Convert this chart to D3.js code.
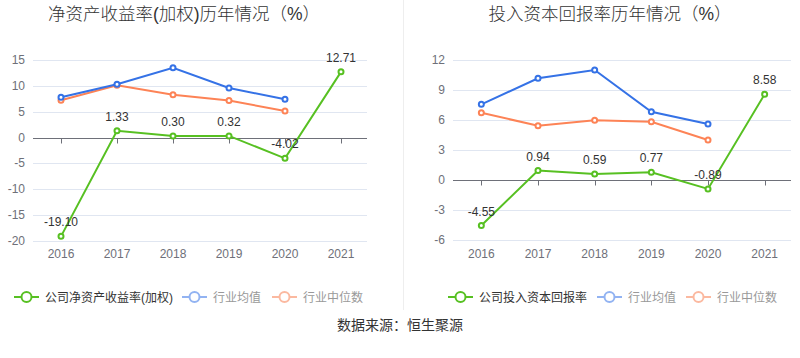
<!DOCTYPE html>
<html><head><meta charset="utf-8">
<script src="https://cdn.jsdelivr.net/npm/d3@7/dist/d3.min.js"></script>
<style>
body{margin:0;background:#fff;}
text{font-family:"Liberation Sans","Noto Sans CJK SC",sans-serif;}
</style></head>
<body><svg id="c" width="800" height="358"></svg>
<script>
const years = ["2016","2017","2018","2019","2020","2021"];
const roeCompany = [-19.10, 1.33, 0.30, 0.32, -4.02, 12.71];
const roeAvg = [7.8, 10.3, 13.5, 9.6, 7.4];
const roeMedian = [7.2, 10.1, 8.3, 7.15, 5.15];
const roeTicks = [15, 10, 5, 0, -5, -10, -15, -20];
const roicCompany = [-4.55, 0.94, 0.59, 0.77, -0.89, 8.58];
const roicAvg = [7.57, 10.17, 11.0, 6.83, 5.6];
const roicMedian = [6.73, 5.42, 5.97, 5.83, 4.0];
const roicTicks = [12, 9, 6, 3, 0, -3, -6];

const GREEN = "#57c022", BLUE = "#3572e6", ORANGE = "#fd8356";
const svg = d3.select("#c");

// divider
svg.append("line").attr("x1",403.5).attr("x2",403.5).attr("y1",0).attr("y2",310)
  .attr("stroke","#eeeeee").attr("stroke-width",1);

function panel(cfg){
  const g = svg.append("g");
  const x = d3.scaleBand().domain(years).range(cfg.xr);
  const y = d3.scaleLinear().domain(cfg.yd).range([cfg.yb, cfg.yt]);
  const cx = d => x(d) + x.bandwidth()/2;

  g.append("text").attr("x", cfg.titleX).attr("y", 20).attr("text-anchor","middle")
    .attr("font-size", 17.5).attr("font-weight",300).attr("fill","#333").text(cfg.title);

  // grid
  g.selectAll(".grid").data(cfg.ticks.filter(t=>t!==0)).enter().append("line")
    .attr("x1", cfg.xr[0]).attr("x2", cfg.xr[1]-2)
    .attr("y1", d=>Math.round(y(d))+0.5).attr("y2", d=>Math.round(y(d))+0.5)
    .attr("stroke","#e0e6f1");
  // y labels
  g.selectAll(".yl").data(cfg.ticks).enter().append("text")
    .attr("x", cfg.xr[0]-8).attr("y", d=>y(d)+4).attr("text-anchor","end")
    .attr("font-size",12).attr("fill","#6e7079").text(d=>d);
  // zero axis
  const y0 = Math.round(y(0))+0.5;
  g.append("line").attr("x1",cfg.xr[0]).attr("x2",cfg.xr[1]-2).attr("y1",y0).attr("y2",y0)
    .attr("stroke","#6e7079");
  g.selectAll(".tk").data(years).enter().append("line")
    .attr("x1",d=>Math.round(cx(d))+0.5).attr("x2",d=>Math.round(cx(d))+0.5)
    .attr("y1",y0).attr("y2",y0+5).attr("stroke","#6e7079");
  // x labels
  g.selectAll(".xl").data(years).enter().append("text")
    .attr("x",cx).attr("y",258).attr("text-anchor","middle")
    .attr("font-size",12).attr("fill","#6e7079").text(d=>d);

  const line = d3.line().x((d,i)=>cx(years[i])).y(d=>y(d));
  const series = [[cfg.med, ORANGE],[cfg.avg, BLUE],[cfg.comp, GREEN]];
  series.forEach(([vals,col])=>{
    g.append("path").attr("d", line(vals)).attr("fill","none")
      .attr("stroke",col).attr("stroke-width",2);
    g.selectAll(null).data(vals).enter().append("circle")
      .attr("cx",(d,i)=>cx(years[i])).attr("cy",d=>y(d)).attr("r",2.5)
      .attr("fill","#fff").attr("stroke",col).attr("stroke-width",2);
  });
  g.selectAll(".lbl").data(cfg.comp).enter().append("text")
    .attr("x",(d,i)=>cx(years[i])).attr("y",d=>y(d)-10).attr("text-anchor","middle")
    .attr("font-size",12).attr("fill","#333").text(d=>d.toFixed(2));

  // legend
  const items = [[cfg.legendName, GREEN, "#333"],["行业均值","#92b3f2","#999"],["行业中位数","#fbb9a0","#999"]];
  items.forEach(([name,col,tc],i)=>{
    const lx = cfg.legendX[i];
    g.append("line").attr("x1",lx).attr("x2",lx+25).attr("y1",297).attr("y2",297)
      .attr("stroke",col).attr("stroke-width",2);
    g.append("circle").attr("cx",lx+12.5).attr("cy",297).attr("r",5)
      .attr("fill","#fff").attr("stroke",col).attr("stroke-width",2);
    g.append("text").attr("x",lx+31).attr("y",301.5).attr("font-size",12)
      .attr("fill",tc).text(name);
  });
}

panel({xr:[33,369], yd:[-20,15], yb:241, yt:60, ticks:roeTicks,
  title:"净资产收益率(加权)历年情况（%）", titleX:184,
  comp:roeCompany, avg:roeAvg, med:roeMedian,
  legendName:"公司净资产收益率(加权)", legendX:[14,182,272]});
panel({xr:[453,793], yd:[-6,12], yb:240, yt:60, ticks:roicTicks,
  title:"投入资本回报率历年情况（%）", titleX:610,
  comp:roicCompany, avg:roicAvg, med:roicMedian,
  legendName:"公司投入资本回报率", legendX:[448,597,686]});

svg.append("text").attr("x",400).attr("y",330).attr("text-anchor","middle")
  .attr("font-size",14).attr("fill","#333").text("数据来源：恒生聚源");
</script></body></html>
